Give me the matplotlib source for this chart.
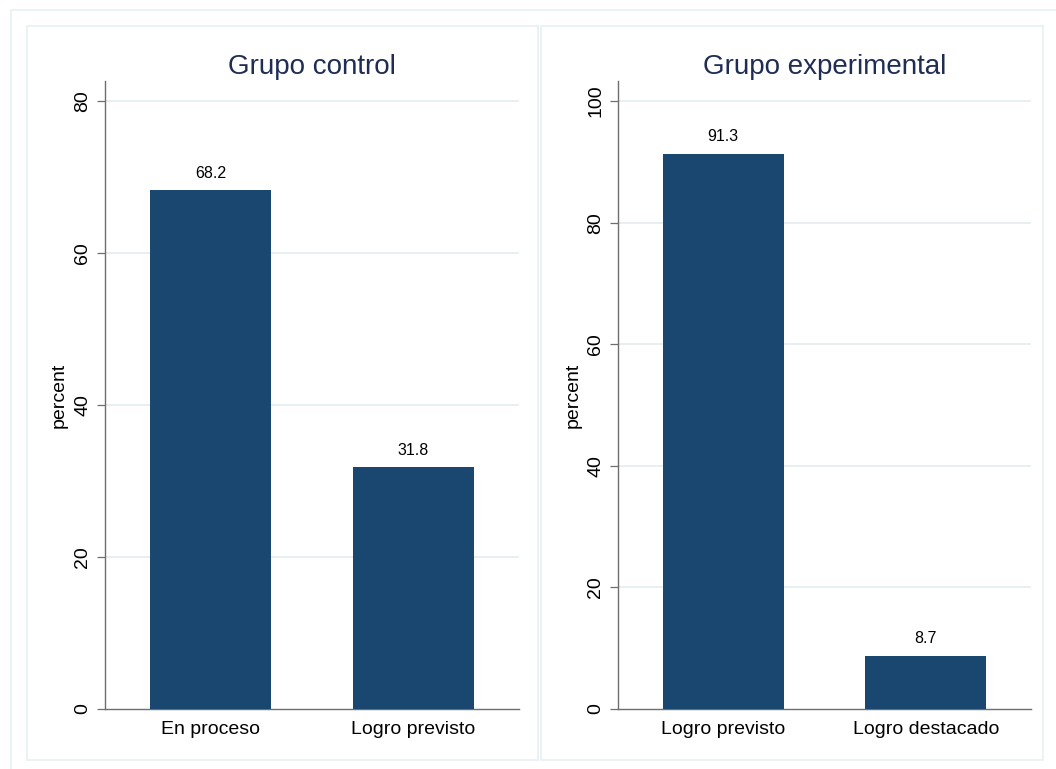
import matplotlib
matplotlib.use("Agg")
import matplotlib.pyplot as plt
from matplotlib.patches import Rectangle

# Data
control_categories = ["En proceso", "Logro previsto"]
control_percent = [68.2, 31.8]
control_yticks = [0, 20, 40, 60, 80]

experimental_categories = ["Logro previsto", "Logro destacado"]
experimental_percent = [91.3, 8.7]
experimental_yticks = [0, 20, 40, 60, 80, 100]

titles = ["Grupo control", "Grupo experimental"]

BAR_COLOR = "#1A476F"
TITLE_COLOR = "#1F2D55"
GRID_COLOR = "#E6EEF1"
FRAME_COLOR = "#E8F0F2"
AXIS_COLOR = "#6E6E6E"

plt.rcParams["font.family"] = ["Liberation Sans", "DejaVu Sans"]

fig = plt.figure(figsize=(10.56, 7.69), dpi=100)
W, H = 1056, 769


def px_rect(x0, y0, x1, y1):
    """Convert pixel box (top-left origin) to figure fraction rect."""
    return [x0 / W, 1 - y1 / H, (x1 - x0) / W, (y1 - y0) / H]


# outer and panel frames
for x0, y0, x1, y1 in [(11, 10, 1062, 775), (27, 26, 538, 760), (541, 26, 1043, 760)]:
    l, b, w, h = px_rect(x0, y0, x1, y1)
    fig.add_artist(Rectangle((l, b), w, h, transform=fig.transFigure,
                             fill=False, edgecolor=FRAME_COLOR, linewidth=1.2))

panels = [
    (control_categories, control_percent, control_yticks, 82.6, (105, 81, 519, 709)),
    (experimental_categories, experimental_percent, experimental_yticks, 103.3, (618, 81, 1031, 709)),
]

for (cats, vals, yticks, ytop, box), title in zip(panels, titles):
    ax = fig.add_axes(px_rect(*box))
    x = range(len(cats))
    bars = ax.bar(x, vals, width=0.6, color=BAR_COLOR, zorder=3)
    ax.bar_label(bars, fmt="%.1f", padding=7, fontsize=11.5, color="black")

    ax.set_xlim(-0.52, 1.52)
    ax.set_ylim(0, ytop)
    ax.set_xticks(list(x))
    ax.set_xticklabels(cats, fontsize=14)
    ax.tick_params(axis="x", length=0, pad=9)

    ax.set_yticks(yticks)
    ax.set_yticklabels([str(t) for t in yticks], fontsize=14, rotation=90, va="center")
    ax.tick_params(axis="y", length=6, width=0.9, color=AXIS_COLOR, pad=4)

    for t in yticks[1:]:
        ax.axhline(t, color=GRID_COLOR, linewidth=1.3, zorder=1)

    ax.set_ylabel("percent", fontsize=14)
    ax.yaxis.set_label_coords(-0.089, 0.5)

    for side in ["top", "right"]:
        ax.spines[side].set_visible(False)
    for side in ["left", "bottom"]:
        ax.spines[side].set_color(AXIS_COLOR)
        ax.spines[side].set_linewidth(1.0)

    ax.set_title(title, fontsize=20, color=TITLE_COLOR, pad=5)

fig.savefig("out.png", dpi=100)
